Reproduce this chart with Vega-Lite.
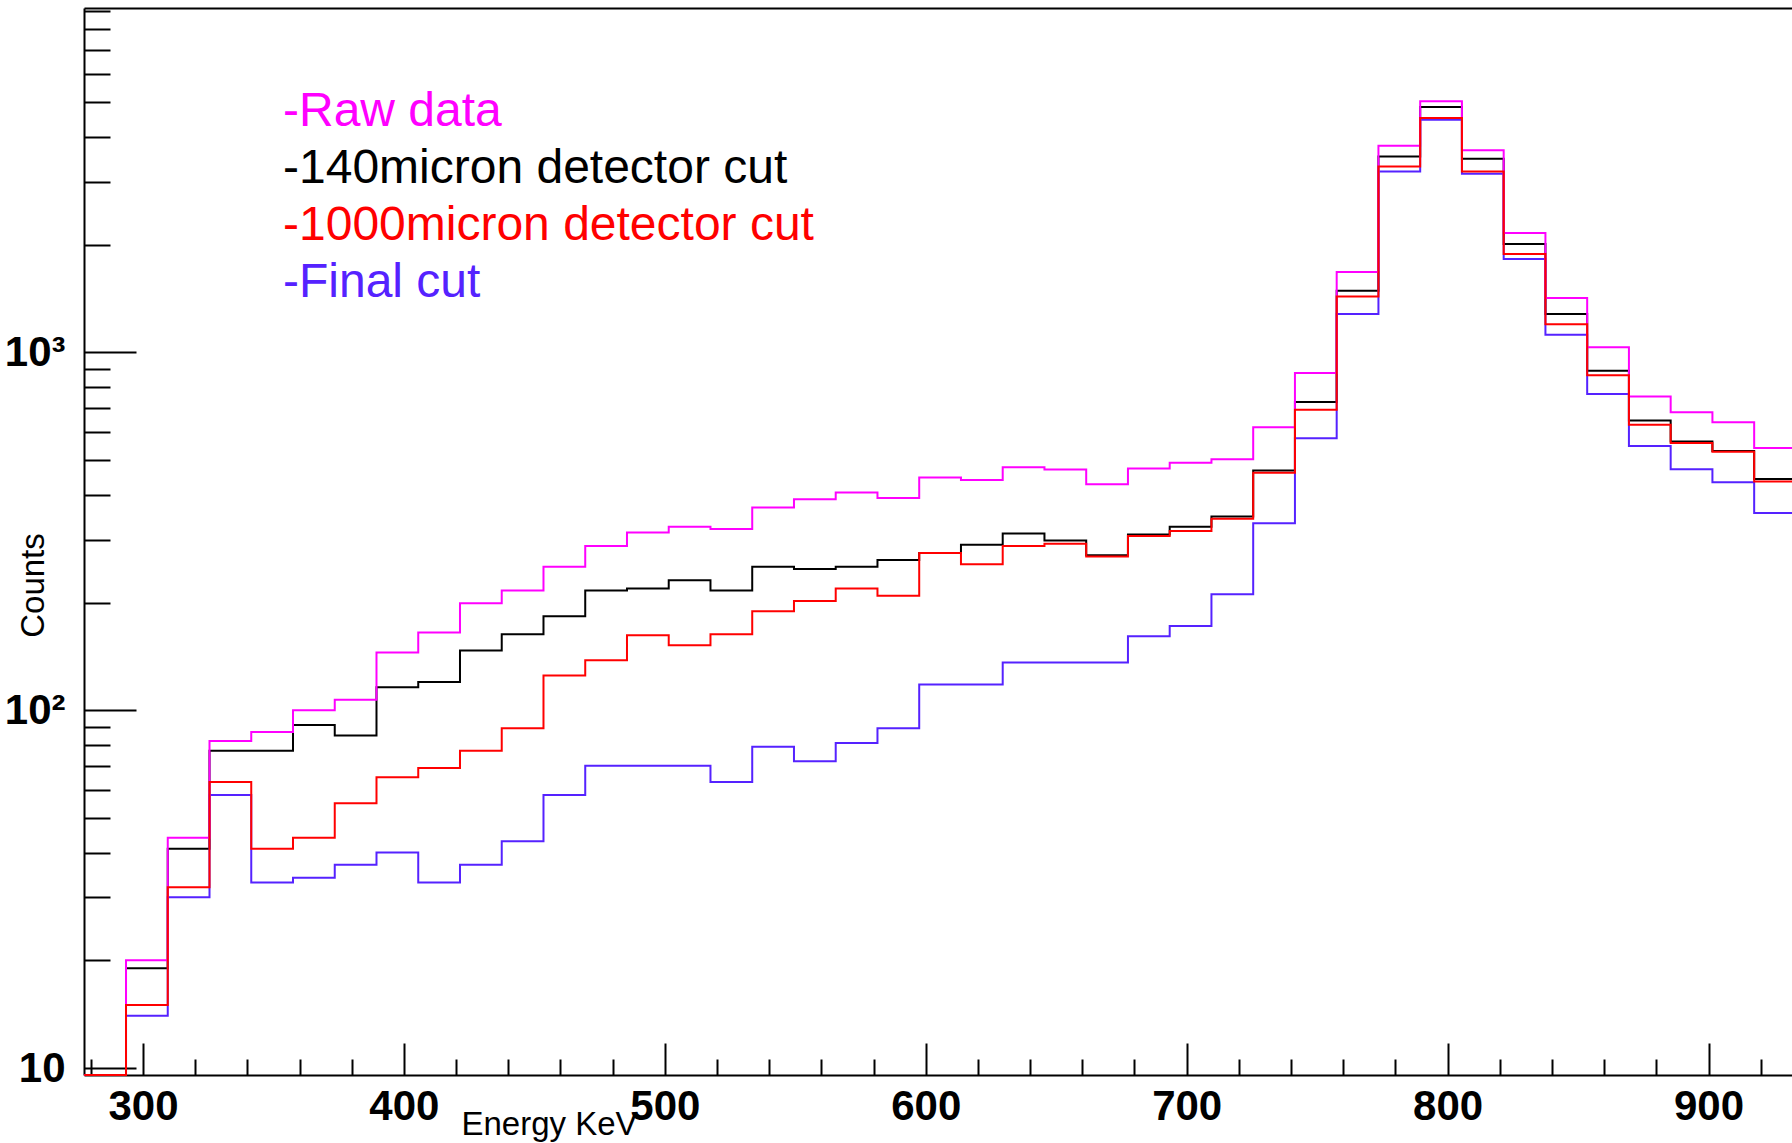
{
  "$schema": "https://vega.github.io/schema/vega-lite/v6.json",
  "width": 1708,
  "height": 1067,
  "autosize": {"type": "none"},
  "padding": {"left": 84, "top": 8, "right": 0, "bottom": 68},
  "background": "white",
  "config": {"view": {"stroke": null}, "font": "Liberation Sans"},
  "data": {
    "values": [
      {"lo": 277.5, "hi": 293.5, "Raw data": 0, "140micron detector cut": 0, "1000micron detector cut": 0, "Final cut": 0},
      {"lo": 293.5, "hi": 309.5, "Raw data": 20, "140micron detector cut": 19, "1000micron detector cut": 15, "Final cut": 14},
      {"lo": 309.5, "hi": 325.5, "Raw data": 44, "140micron detector cut": 41, "1000micron detector cut": 32, "Final cut": 30},
      {"lo": 325.5, "hi": 341.5, "Raw data": 82, "140micron detector cut": 77, "1000micron detector cut": 63, "Final cut": 58},
      {"lo": 341.5, "hi": 357.5, "Raw data": 87, "140micron detector cut": 77, "1000micron detector cut": 41, "Final cut": 33},
      {"lo": 357.5, "hi": 373.5, "Raw data": 100, "140micron detector cut": 91, "1000micron detector cut": 44, "Final cut": 34},
      {"lo": 373.5, "hi": 389.5, "Raw data": 107, "140micron detector cut": 85, "1000micron detector cut": 55, "Final cut": 37},
      {"lo": 389.5, "hi": 405.5, "Raw data": 145, "140micron detector cut": 116, "1000micron detector cut": 65, "Final cut": 40},
      {"lo": 405.5, "hi": 421.5, "Raw data": 165, "140micron detector cut": 120, "1000micron detector cut": 69, "Final cut": 33},
      {"lo": 421.5, "hi": 437.5, "Raw data": 199, "140micron detector cut": 147, "1000micron detector cut": 77, "Final cut": 37},
      {"lo": 437.5, "hi": 453.5, "Raw data": 216, "140micron detector cut": 163, "1000micron detector cut": 89, "Final cut": 43},
      {"lo": 453.5, "hi": 469.5, "Raw data": 252, "140micron detector cut": 183, "1000micron detector cut": 125, "Final cut": 58},
      {"lo": 469.5, "hi": 485.5, "Raw data": 288, "140micron detector cut": 216, "1000micron detector cut": 138, "Final cut": 70},
      {"lo": 485.5, "hi": 501.5, "Raw data": 314, "140micron detector cut": 219, "1000micron detector cut": 162, "Final cut": 70},
      {"lo": 501.5, "hi": 517.5, "Raw data": 326, "140micron detector cut": 231, "1000micron detector cut": 152, "Final cut": 70},
      {"lo": 517.5, "hi": 533.5, "Raw data": 321, "140micron detector cut": 216, "1000micron detector cut": 163, "Final cut": 63},
      {"lo": 533.5, "hi": 549.5, "Raw data": 369, "140micron detector cut": 252, "1000micron detector cut": 189, "Final cut": 79},
      {"lo": 549.5, "hi": 565.5, "Raw data": 389, "140micron detector cut": 248, "1000micron detector cut": 202, "Final cut": 72},
      {"lo": 565.5, "hi": 581.5, "Raw data": 406, "140micron detector cut": 252, "1000micron detector cut": 219, "Final cut": 81},
      {"lo": 581.5, "hi": 597.5, "Raw data": 392, "140micron detector cut": 263, "1000micron detector cut": 209, "Final cut": 89},
      {"lo": 597.5, "hi": 613.5, "Raw data": 447, "140micron detector cut": 275, "1000micron detector cut": 275, "Final cut": 118},
      {"lo": 613.5, "hi": 629.5, "Raw data": 440, "140micron detector cut": 290, "1000micron detector cut": 256, "Final cut": 118},
      {"lo": 629.5, "hi": 645.5, "Raw data": 478, "140micron detector cut": 312, "1000micron detector cut": 288, "Final cut": 136},
      {"lo": 645.5, "hi": 661.5, "Raw data": 471, "140micron detector cut": 298, "1000micron detector cut": 292, "Final cut": 136},
      {"lo": 661.5, "hi": 677.5, "Raw data": 428, "140micron detector cut": 271, "1000micron detector cut": 269, "Final cut": 136},
      {"lo": 677.5, "hi": 693.5, "Raw data": 474, "140micron detector cut": 310, "1000micron detector cut": 307, "Final cut": 161},
      {"lo": 693.5, "hi": 709.5, "Raw data": 492, "140micron detector cut": 326, "1000micron detector cut": 317, "Final cut": 172},
      {"lo": 709.5, "hi": 725.5, "Raw data": 503, "140micron detector cut": 348, "1000micron detector cut": 343, "Final cut": 211},
      {"lo": 725.5, "hi": 741.5, "Raw data": 618, "140micron detector cut": 468, "1000micron detector cut": 461, "Final cut": 333},
      {"lo": 741.5, "hi": 757.5, "Raw data": 876, "140micron detector cut": 727, "1000micron detector cut": 692, "Final cut": 576},
      {"lo": 757.5, "hi": 773.5, "Raw data": 1678, "140micron detector cut": 1488, "1000micron detector cut": 1434, "Final cut": 1280},
      {"lo": 773.5, "hi": 789.5, "Raw data": 3784, "140micron detector cut": 3532, "1000micron detector cut": 3311, "Final cut": 3206},
      {"lo": 789.5, "hi": 805.5, "Raw data": 5035, "140micron detector cut": 4854, "1000micron detector cut": 4519, "Final cut": 4475},
      {"lo": 805.5, "hi": 821.5, "Raw data": 3673, "140micron detector cut": 3479, "1000micron detector cut": 3206, "Final cut": 3160},
      {"lo": 821.5, "hi": 837.5, "Raw data": 2158, "140micron detector cut": 2010, "1000micron detector cut": 1884, "Final cut": 1824},
      {"lo": 837.5, "hi": 853.5, "Raw data": 1419, "140micron detector cut": 1280, "1000micron detector cut": 1200, "Final cut": 1121},
      {"lo": 853.5, "hi": 869.5, "Raw data": 1035, "140micron detector cut": 889, "1000micron detector cut": 863, "Final cut": 765},
      {"lo": 869.5, "hi": 885.5, "Raw data": 753, "140micron detector cut": 645, "1000micron detector cut": 628, "Final cut": 548},
      {"lo": 885.5, "hi": 901.5, "Raw data": 681, "140micron detector cut": 564, "1000micron detector cut": 558, "Final cut": 472},
      {"lo": 901.5, "hi": 917.5, "Raw data": 638, "140micron detector cut": 530, "1000micron detector cut": 528, "Final cut": 434},
      {"lo": 917.5, "hi": 933.5, "Raw data": 541, "140micron detector cut": 443, "1000micron detector cut": 436, "Final cut": 356}
    ]
  },
  "transform": [
    {"fold": ["140micron detector cut", "Final cut", "Raw data", "1000micron detector cut"], "as": ["series", "count"]},
    {"fold": ["lo", "hi"], "as": ["edge", "energy"]}
  ],
  "layer": [
    {
      "mark": {"type": "line", "strokeWidth": 2, "interpolate": "linear", "invalid": null},
      "encoding": {
        "x": {
          "field": "energy",
          "type": "quantitative",
          "scale": {"domain": [277.4, 932], "clamp": true, "nice": false, "zero": false},
          "axis": {
            "values": [280, 300, 320, 340, 360, 380, 400, 420, 440, 460, 480, 500, 520, 540, 560, 580, 600, 620, 640, 660, 680, 700, 720, 740, 760, 780, 800, 820, 840, 860, 880, 900, 920],
            "labelExpr": "datum.value % 100 == 0 ? datum.label : ''",
            "tickSize": {"condition": {"test": "datum.value % 100 == 0", "value": -32}, "value": -16},
            "tickColor": "black",
            "tickWidth": 2,
            "domainColor": "black",
            "domainWidth": 2,
            "grid": false,
            "labelFont": "Liberation Sans",
            "labelFontWeight": "bold",
            "labelFontSize": 42,
            "labelColor": "black",
            "labelPadding": 43,
            "labelFlush": false,
            "labelOverlap": false,
            "title": "Energy KeV",
            "titleFont": "Liberation Sans",
            "titleFontWeight": "normal",
            "titleFontSize": 33,
            "titleColor": "black",
            "titleX": 465,
            "titleY": 59,
            "titleAlign": "center",
            "titleBaseline": "alphabetic"
          }
        },
        "y": {
          "field": "count",
          "type": "quantitative",
          "scale": {"type": "log", "domain": [9.56, 9180], "clamp": true, "nice": false},
          "axis": {
            "values": [10, 20, 30, 40, 50, 60, 70, 80, 90, 100, 200, 300, 400, 500, 600, 700, 800, 900, 1000, 2000, 3000, 4000, 5000, 6000, 7000, 8000, 9000],
            "labelExpr": "datum.value == 10 ? '10' : datum.value == 100 ? '10²' : datum.value == 1000 ? '10³' : ''",
            "tickSize": {"condition": {"test": "datum.value == 10 || datum.value == 100 || datum.value == 1000", "value": -52}, "value": -26},
            "tickColor": "black",
            "tickWidth": 2,
            "domainColor": "black",
            "domainWidth": 2,
            "grid": false,
            "labelFont": "Liberation Sans",
            "labelFontWeight": "bold",
            "labelFontSize": 42,
            "labelColor": "black",
            "labelPadding": 71,
            "labelOverlap": false,
            "labelFlush": false,
            "title": "Counts",
            "titleFont": "Liberation Sans",
            "titleFontWeight": "normal",
            "titleFontSize": 33,
            "titleColor": "black",
            "titleX": -41,
            "titleY": 577,
            "titleAlign": "center",
            "titleBaseline": "alphabetic"
          }
        },
        "color": {
          "field": "series",
          "type": "nominal",
          "scale": {
            "domain": ["Raw data", "140micron detector cut", "1000micron detector cut", "Final cut"],
            "range": ["#ff00ff", "#000000", "#ff0000", "#5522ff"]
          },
          "legend": {
            "orient": "none",
            "legendX": 151,
            "legendY": 80,
            "title": null,
            "padding": 0,
            "symbolSize": 0,
            "symbolStrokeWidth": 0,
            "symbolOpacity": 0,
            "labelOffset": 0,
            "labelFont": "Liberation Sans",
            "labelFontSize": 48,
            "labelLimit": 0,
            "rowPadding": 9,
            "labelExpr": "'-' + datum.label",
            "encode": {"labels": {"update": {"fill": {"scale": "color", "field": "value"}}}}
          }
        },
        "order": {"value": null}
      }
    },
    {
      "mark": {"type": "line", "opacity": 0, "invalid": null},
      "encoding": {
        "x": {
          "field": "energy",
          "type": "quantitative",
          "axis": {"orient": "top", "ticks": false, "labels": false, "title": null, "grid": false, "domainColor": "black", "domainWidth": 2}
        },
        "y": {"field": "count", "type": "quantitative"},
        "detail": {"field": "series"},
        "order": {"value": null}
      }
    }
  ],
  "resolve": {"axis": {"x": "independent"}}
}
